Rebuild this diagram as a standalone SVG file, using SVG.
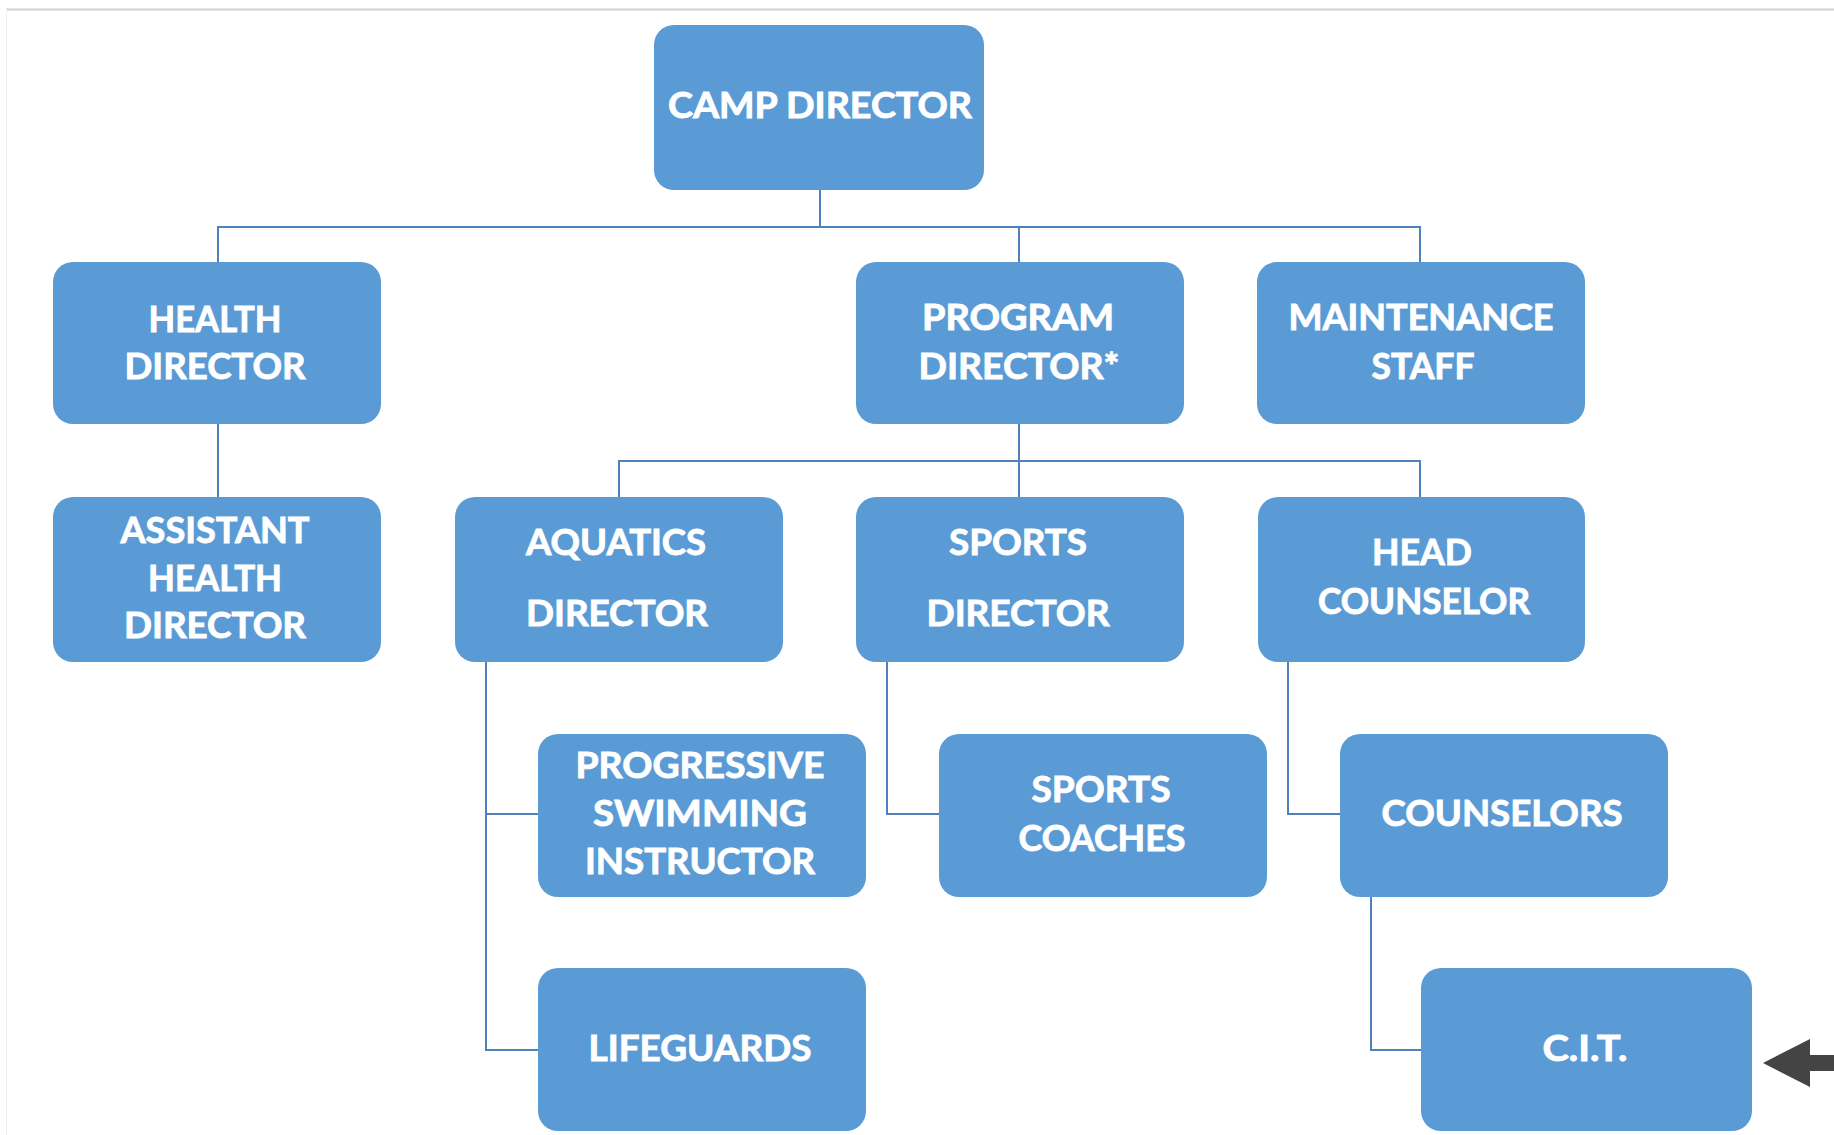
<svg xmlns="http://www.w3.org/2000/svg" width="1834" height="1135" viewBox="0 0 1834 1135">
<style>
.box{fill:#5b9bd5}
.t{font-family:Lato,"Open Sans","Liberation Sans",sans-serif;font-weight:700;font-size:37px;fill:#ffffff;stroke:#ffffff;stroke-width:0.9;text-anchor:middle}
.c{fill:none;stroke:#4f81bd;stroke-width:2}
</style>
<rect x="0" y="0" width="1834" height="1135" fill="#ffffff"/>
<line x1="6" y1="9.5" x2="1834" y2="9.5" stroke="#cfcfcf" stroke-width="2"/>
<line x1="6.5" y1="9" x2="6.5" y2="1135" stroke="#f0f0f0" stroke-width="1"/>
<g id="connectors">
<path class="c" d="M820 190V227M218 262V227H1420V262M1019 227V262"/>
<path class="c" d="M218 424V497"/>
<path class="c" d="M1019 424V497M619 497V461H1420V497"/>
<path class="c" d="M486 662V1050H538M486 814H538"/>
<path class="c" d="M887 662V814H939"/>
<path class="c" d="M1288 662V814H1340"/>
<path class="c" d="M1371 897V1050H1421"/>
</g>
<g id="camp-director"><rect class="box" x="654" y="25" width="330" height="165" rx="20"/>
<text class="t" x="820" y="118" textLength="304" lengthAdjust="spacingAndGlyphs">CAMP DIRECTOR</text></g>
<g id="health-director"><rect class="box" x="53" y="262" width="328" height="162" rx="20"/>
<text class="t" x="215" y="332" textLength="133" lengthAdjust="spacingAndGlyphs">HEALTH</text>
<text class="t" x="215" y="379" textLength="181" lengthAdjust="spacingAndGlyphs">DIRECTOR</text></g>
<g id="program-director"><rect class="box" x="856" y="262" width="328" height="162" rx="20"/>
<text class="t" x="1018" y="330" textLength="192" lengthAdjust="spacingAndGlyphs">PROGRAM</text>
<text class="t" x="1019" y="379" textLength="201" lengthAdjust="spacingAndGlyphs">DIRECTOR*</text></g>
<g id="maintenance-staff"><rect class="box" x="1257" y="262" width="328" height="162" rx="20"/>
<text class="t" x="1421" y="330" textLength="265" lengthAdjust="spacingAndGlyphs">MAINTENANCE</text>
<text class="t" x="1423" y="379" textLength="103" lengthAdjust="spacingAndGlyphs">STAFF</text></g>
<g id="assistant-health-director"><rect class="box" x="53" y="497" width="328" height="165" rx="20"/>
<text class="t" x="215" y="543" textLength="189" lengthAdjust="spacingAndGlyphs">ASSISTANT</text>
<text class="t" x="215" y="591" textLength="134" lengthAdjust="spacingAndGlyphs">HEALTH</text>
<text class="t" x="215" y="638" textLength="182" lengthAdjust="spacingAndGlyphs">DIRECTOR</text></g>
<g id="aquatics-director"><rect class="box" x="455" y="497" width="328" height="165" rx="20"/>
<text class="t" x="616" y="555" textLength="180" lengthAdjust="spacingAndGlyphs">AQUATICS</text>
<text class="t" x="617" y="626" textLength="182" lengthAdjust="spacingAndGlyphs">DIRECTOR</text></g>
<g id="sports-director"><rect class="box" x="856" y="497" width="328" height="165" rx="20"/>
<text class="t" x="1018" y="555" textLength="138" lengthAdjust="spacingAndGlyphs">SPORTS</text>
<text class="t" x="1018" y="626" textLength="183" lengthAdjust="spacingAndGlyphs">DIRECTOR</text></g>
<g id="head-counselor"><rect class="box" x="1258" y="497" width="327" height="165" rx="20"/>
<text class="t" x="1422" y="565" textLength="100" lengthAdjust="spacingAndGlyphs">HEAD</text>
<text class="t" x="1424" y="614" textLength="212" lengthAdjust="spacingAndGlyphs">COUNSELOR</text></g>
<g id="progressive-swimming-instructor"><rect class="box" x="538" y="734" width="328" height="163" rx="20"/>
<text class="t" x="700" y="778" textLength="249" lengthAdjust="spacingAndGlyphs">PROGRESSIVE</text>
<text class="t" x="700" y="826" textLength="214" lengthAdjust="spacingAndGlyphs">SWIMMING</text>
<text class="t" x="700" y="874" textLength="230" lengthAdjust="spacingAndGlyphs">INSTRUCTOR</text></g>
<g id="sports-coaches"><rect class="box" x="939" y="734" width="328" height="163" rx="20"/>
<text class="t" x="1101" y="802" textLength="139" lengthAdjust="spacingAndGlyphs">SPORTS</text>
<text class="t" x="1102" y="851" textLength="167" lengthAdjust="spacingAndGlyphs">COACHES</text></g>
<g id="counselors"><rect class="box" x="1340" y="734" width="328" height="163" rx="20"/>
<text class="t" x="1502" y="826" textLength="241" lengthAdjust="spacingAndGlyphs">COUNSELORS</text></g>
<g id="lifeguards"><rect class="box" x="538" y="968" width="328" height="163" rx="20"/>
<text class="t" x="700" y="1061" textLength="223" lengthAdjust="spacingAndGlyphs">LIFEGUARDS</text></g>
<g id="cit"><rect class="box" x="1421" y="968" width="331" height="163" rx="20"/>
<text class="t" x="1585" y="1061" textLength="85" lengthAdjust="spacingAndGlyphs">C.I.T.</text></g>
<polygon points="1763,1063 1810,1039 1810,1055 1834,1055 1834,1071 1810,1071 1810,1087" fill="#444444"/>
</svg>
